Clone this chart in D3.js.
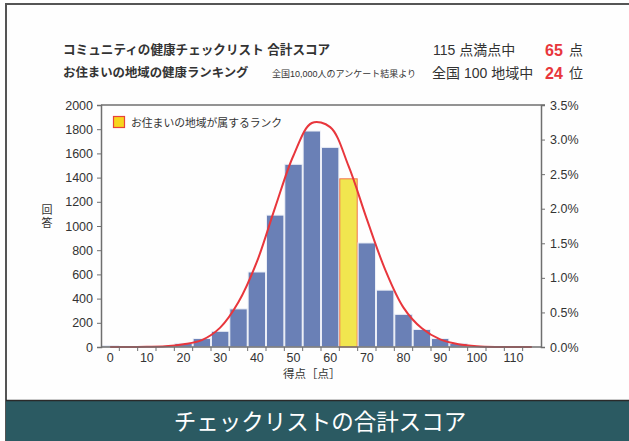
<!DOCTYPE html>
<html>
<head>
<meta charset="utf-8" />
<title>チェックリストの合計スコア</title>
<style>
    html, body { margin: 0; padding: 0; background: #fff; }
    svg text { font-family: "Liberation Sans", "Noto Sans CJK JP", sans-serif; fill: #333; }
</style>
</head>
<body>
<div id="chart"></div>
<script src="https://d3js.org/d3.v7.min.js"></script>
<script>
// bins of 5 points, labelled by their centre
var scores = [0, 5, 10, 15, 20, 25, 30, 35, 40, 45, 50, 55, 60, 65, 70, 75, 80, 85, 90, 95, 100, 105, 110, 115];
var counts = [10, 0, 0, 5, 30, 70, 130, 315, 620, 1090, 1510, 1785, 1650, 1390, 860, 470, 270, 145, 70, 30, 5, 0, 0, 0];
// red curve (%)
var curvePct = [0, 0, 0.003, 0.01, 0.04, 0.10, 0.28, 0.65, 1.23, 2.02, 2.77, 3.24, 3.18, 2.62, 1.85, 1.12, 0.57, 0.27, 0.11, 0.04, 0.01, 0, 0, 0];
var xTickLabels = [0, 10, 20, 30, 40, 50, 60, 70, 80, 90, 100, 110];
var countTicks = [0, 200, 400, 600, 800, 1000, 1200, 1400, 1600, 1800, 2000];
var pctTicks = [0, 0.5, 1.0, 1.5, 2.0, 2.5, 3.0, 3.5];
var userBin = 65;
var totalScore = "115", userScore = "65";
var regions = "100", userRank = "24";

(function() {
    "use strict"
    var width = 629, height = 441
    var plot = { left: 101, right: 541, top: 105, bottom: 347 }
    var red = "#e8363c"

    var svg = d3.select("#chart").append("svg")
        .attr("width", width).attr("height", height)

    // frame
    svg.append("rect").attr("x", 0).attr("y", 0).attr("width", width).attr("height", height).attr("fill", "#fff")
    svg.append("rect").attr("x", 6).attr("y", 4).attr("width", width - 6).attr("height", height - 4)
        .attr("fill", "#fefefe")
    svg.append("line").attr("x1", 5).attr("x2", width).attr("y1", 4).attr("y2", 4)
        .attr("stroke", "#555").attr("stroke-width", 2)
    svg.append("line").attr("x1", 6).attr("x2", 6).attr("y1", 4).attr("y2", height)
        .attr("stroke", "#555").attr("stroke-width", 2)

    // header
    var head = svg.append("g")
    head.append("text").attr("x", 63).attr("y", 50).attr("dominant-baseline", "central")
        .style("font-size", "12.6px").style("font-weight", "bold")
        .text("コミュニティの健康チェックリスト 合計スコア")
    head.append("text").attr("x", 63).attr("y", 73).attr("dominant-baseline", "central")
        .style("font-size", "12.4px").style("font-weight", "bold")
        .text("お住まいの地域の健康ランキング")
    head.append("text").attr("x", 272).attr("y", 73.5).attr("dominant-baseline", "central")
        .style("font-size", "9px")
        .text("全国10,000人のアンケート結果より")
    head.append("text").attr("x", 433).attr("y", 50).attr("dominant-baseline", "central")
        .style("font-size", "14px")
        .text(totalScore + " 点満点中")
    head.append("text").attr("x", 432).attr("y", 73).attr("dominant-baseline", "central")
        .style("font-size", "14px")
        .text("全国 " + regions + " 地域中")
    head.append("text").attr("x", 545).attr("y", 50).attr("dominant-baseline", "central")
        .style("font-size", "16px").style("font-weight", "bold").style("fill", red)
        .text(userScore)
    head.append("text").attr("x", 569).attr("y", 50).attr("dominant-baseline", "central")
        .style("font-size", "14px").text("点")
    head.append("text").attr("x", 545).attr("y", 73).attr("dominant-baseline", "central")
        .style("font-size", "16px").style("font-weight", "bold").style("fill", red)
        .text(userRank)
    head.append("text").attr("x", 569).attr("y", 73).attr("dominant-baseline", "central")
        .style("font-size", "14px").text("位")

    // scales
    var x = d3.scaleBand().domain(scores).range([plot.left, plot.right]).paddingInner(0.05).paddingOuter(0.025)
    var xs = d3.scaleLinear().domain([-2.5, 117.5]).range([plot.left, plot.right])
    var yCount = d3.scaleLinear().domain([0, 2000]).range([plot.bottom, plot.top])
    var yPct = d3.scaleLinear().domain([0, 3.5]).range([plot.bottom, plot.top])

    // bars
    svg.append("g").selectAll("rect")
        .data(scores.map(function(s, i) { return { s: s, v: counts[i] } }).filter(function(d) { return d.v > 0 }))
        .enter().append("rect")
        .attr("x", function(d) { return x(d.s) })
        .attr("width", x.bandwidth())
        .attr("y", function(d) { return yCount(d.v) })
        .attr("height", function(d) { return plot.bottom - yCount(d.v) })
        .attr("fill", function(d) { return d.s === userBin ? "#f1e64f" : "#6a80b6" })
        .attr("stroke", function(d) { return d.s === userBin ? "#f2744f" : "#eef1f8" })
        .attr("stroke-width", 1)

    // curve
    var line = d3.line()
        .x(function(d) { return xs(d.s) })
        .y(function(d) { return yPct(d.p) })
        .curve(d3.curveCatmullRom)
    svg.append("path")
        .datum(scores.map(function(s, i) { return { s: s, p: curvePct[i] } }))
        .attr("d", line)
        .attr("fill", "none").attr("stroke", red).attr("stroke-width", 2)

    // box
    var axisColor = "#6f6f6f"
    svg.append("line").attr("x1", plot.left).attr("x2", plot.right + 4).attr("y1", plot.top).attr("y2", plot.top)
        .attr("stroke", axisColor).attr("stroke-width", 1.5)

    var leftAxis = svg.append("g").attr("transform", "translate(" + plot.left + ",0)")
        .call(d3.axisLeft(yCount).tickValues(countTicks).tickSize(4).tickPadding(4).tickFormat(d3.format("d")))
    var rightAxis = svg.append("g").attr("transform", "translate(" + plot.right + ",0)")
        .call(d3.axisRight(yPct).tickValues(pctTicks).tickSize(4).tickPadding(5)
            .tickFormat(function(d) { return d.toFixed(1) + "%" }))
    var bottomAxis = svg.append("g").attr("transform", "translate(0," + plot.bottom + ")")
        .call(d3.axisBottom(x).tickValues(xTickLabels).tickSize(0).tickPadding(6))
    // tick marks on bin edges
    svg.append("g").selectAll("line")
        .data(scores.slice(1))
        .enter().append("line")
        .attr("x1", function(d) { return xs(d - 2.5) })
        .attr("x2", function(d) { return xs(d - 2.5) })
        .attr("y1", plot.bottom).attr("y2", plot.bottom + 4)
        .attr("stroke", axisColor).attr("stroke-width", 1)

    ;[leftAxis, rightAxis, bottomAxis].forEach(function(a) {
        a.select(".domain").attr("stroke", axisColor).attr("stroke-width", 1.5)
        a.selectAll(".tick line").attr("stroke", axisColor)
        a.selectAll("text").style("font-size", "12.5px").style("fill", "#333")
    })
    bottomAxis.select(".domain").attr("d", "M" + plot.left + ",0H" + plot.right)

    // axis titles
    svg.append("text").attr("x", xs(55)).attr("y", 374).attr("text-anchor", "middle")
        .attr("dominant-baseline", "central").style("font-size", "11.5px")
        .text("得点［点］")
    svg.append("text").attr("x", 47).attr("y", 210).attr("text-anchor", "middle")
        .attr("dominant-baseline", "central").style("font-size", "11px").text("回")
    svg.append("text").attr("x", 47).attr("y", 223).attr("text-anchor", "middle")
        .attr("dominant-baseline", "central").style("font-size", "11px").text("答")

    // legend
    svg.append("rect").attr("x", 113.5).attr("y", 116.5).attr("width", 11).attr("height", 11)
        .attr("fill", "#f7d51d").attr("stroke", "#e8423a").attr("stroke-width", 1.2)
    svg.append("text").attr("x", 131).attr("y", 122.5).attr("dominant-baseline", "central")
        .style("font-size", "10.8px").text("お住まいの地域が属するランク")

    // banner
    svg.append("rect").attr("x", 6).attr("y", 400).attr("width", width - 6).attr("height", height - 400)
        .attr("fill", "#2b5a62")
    svg.append("line").attr("x1", 6).attr("x2", width).attr("y1", 400.5).attr("y2", 400.5)
        .attr("stroke", "#2a2a2a").attr("stroke-width", 1.5)
    svg.append("text").attr("x", 320).attr("y", 422).attr("text-anchor", "middle")
        .attr("dominant-baseline", "central").style("font-size", "22.5px").style("fill", "#fff")
        .text("チェックリストの合計スコア")
}());
</script>
</body>
</html>
